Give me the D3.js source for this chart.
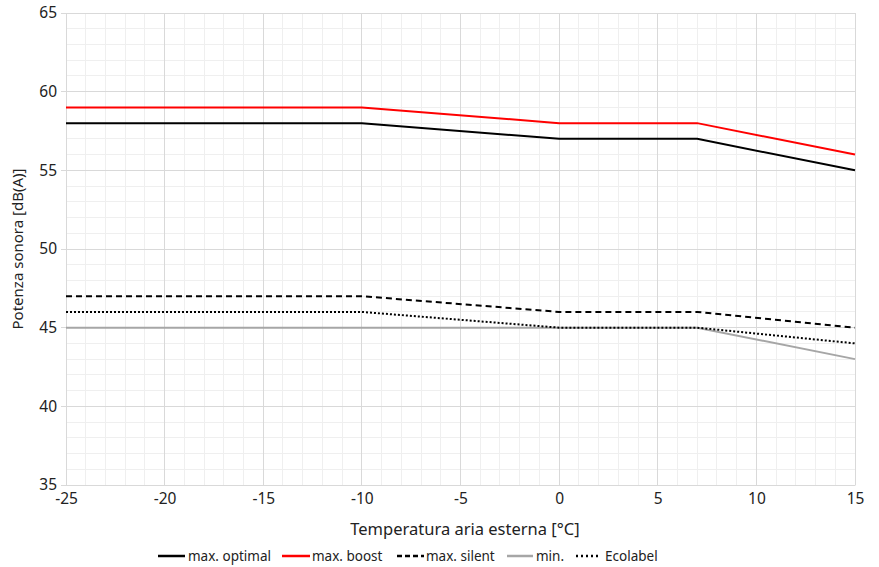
<!DOCTYPE html>
<html><head><meta charset="utf-8">
<script src="https://cdn.jsdelivr.net/npm/d3@7"></script>
<style>body{margin:0;background:#fff;} text{font-family:"Noto Sans",sans-serif;}</style>
</head><body>
<svg id="c" width="879" height="567"></svg>
<script>
const temps = [-25, -10, 0, 7, 15];
const maxOptimal = [58, 58, 57, 57, 55];
const maxBoost = [59, 59, 58, 58, 56];
const maxSilent = [47, 47, 46, 46, 45];
const minVals = [45, 45, 45, 45, 43];
const ecolabel = [46, 46, 45, 45, 44];
const xTicks = [-25, -20, -15, -10, -5, 0, 5, 10, 15];
const yTicks = [35, 40, 45, 50, 55, 60, 65];

const series = [
  {name: "max. optimal", values: maxOptimal, color: "#000", dash: null, w: 2},
  {name: "max. boost", values: maxBoost, color: "#ff0000", dash: null, w: 2},
  {name: "max. silent", values: maxSilent, color: "#000", dash: "6,4", w: 2},
  {name: "min.", values: minVals, color: "#a6a6a6", dash: null, w: 2},
  {name: "Ecolabel", values: ecolabel, color: "#000", dash: "2,2", w: 2}
];

const svg = d3.select("#c");
const L = 66, R = 855, T = 13, B = 485;
const FS = 15.5;
const x = d3.scaleLinear().domain([-25, 15]).range([L, R]);
const y = d3.scaleLinear().domain([35, 65]).range([B, T]);

const g = svg.append("g");
g.selectAll(".mx").data(d3.range(-25, 16, 1)).join("line")
  .attr("x1", d => x(d)).attr("x2", d => x(d)).attr("y1", T).attr("y2", B)
  .attr("stroke", "#efefef").attr("stroke-width", 1).attr("shape-rendering","crispEdges");
g.selectAll(".my").data(d3.range(35, 66, 1)).join("line")
  .attr("y1", d => y(d)).attr("y2", d => y(d)).attr("x1", L).attr("x2", R)
  .attr("stroke", "#efefef").attr("stroke-width", 1).attr("shape-rendering","crispEdges");
g.selectAll(".Mx").data(xTicks).join("line")
  .attr("x1", d => x(d)).attr("x2", d => x(d)).attr("y1", T).attr("y2", B)
  .attr("stroke", "#d9d9d9").attr("stroke-width", 1).attr("shape-rendering","crispEdges");
g.selectAll(".My").data(yTicks).join("line")
  .attr("y1", d => y(d)).attr("y2", d => y(d)).attr("x1", L - 5).attr("x2", R)
  .attr("stroke", "#d9d9d9").attr("stroke-width", 1).attr("shape-rendering","crispEdges");

const fmt = d => String(d);
const xAxis = d3.axisBottom(x).tickValues(xTicks).tickFormat(fmt).tickSize(0).tickPadding(8);
svg.append("g").attr("transform", `translate(0,${B})`).call(xAxis)
  .call(s => s.select(".domain").attr("stroke", "#d9d9d9"))
  .selectAll("text").attr("font-size", FS).attr("fill", "#222").style("font-family", "Noto Sans");
const yAxis = d3.axisLeft(y).tickValues(yTicks).tickFormat(fmt).tickSize(0).tickPadding(9);
svg.append("g").attr("transform", `translate(${L},0)`).call(yAxis)
  .call(s => s.select(".domain").attr("stroke", "#d9d9d9"))
  .selectAll("text").attr("font-size", FS).attr("fill", "#222").style("font-family", "Noto Sans");

const line = d3.line().x((d, i) => x(temps[i])).y(d => y(d));
series.forEach(s => {
  svg.append("path").datum(s.values).attr("d", line)
    .attr("fill", "none").attr("stroke", s.color).attr("stroke-width", s.w)
    .attr("stroke-dasharray", s.dash);
});

svg.append("text").attr("x", 465).attr("y", 535).attr("text-anchor", "middle")
  .attr("font-size", 16.5).attr("fill", "#222").text("Temperatura aria esterna [°C]");
svg.append("text").attr("transform", `translate(23,${(T + B) / 2}) rotate(-90)`)
  .attr("text-anchor", "middle").attr("font-size", 15).attr("fill", "#222").text("Potenza sonora [dB(A)]");

const legLine = [[158, 185], [282, 310], [397, 424], [507, 533], [576, 598]];
const legText = [188, 312, 426, 536, 605];
const leg = svg.append("g");
series.forEach((s, i) => {
  leg.append("line").attr("x1", legLine[i][0]).attr("x2", legLine[i][1]).attr("y1", 556).attr("y2", 556)
    .attr("stroke", s.color).attr("stroke-width", 2.5).attr("stroke-dasharray", s.dash ? (i === 2 ? "5,3" : "2,3") : null);
  leg.append("text").attr("x", legText[i]).attr("y", 561).attr("font-size", 13.5).attr("fill", "#222").text(s.name);
});
</script>
</body></html>
